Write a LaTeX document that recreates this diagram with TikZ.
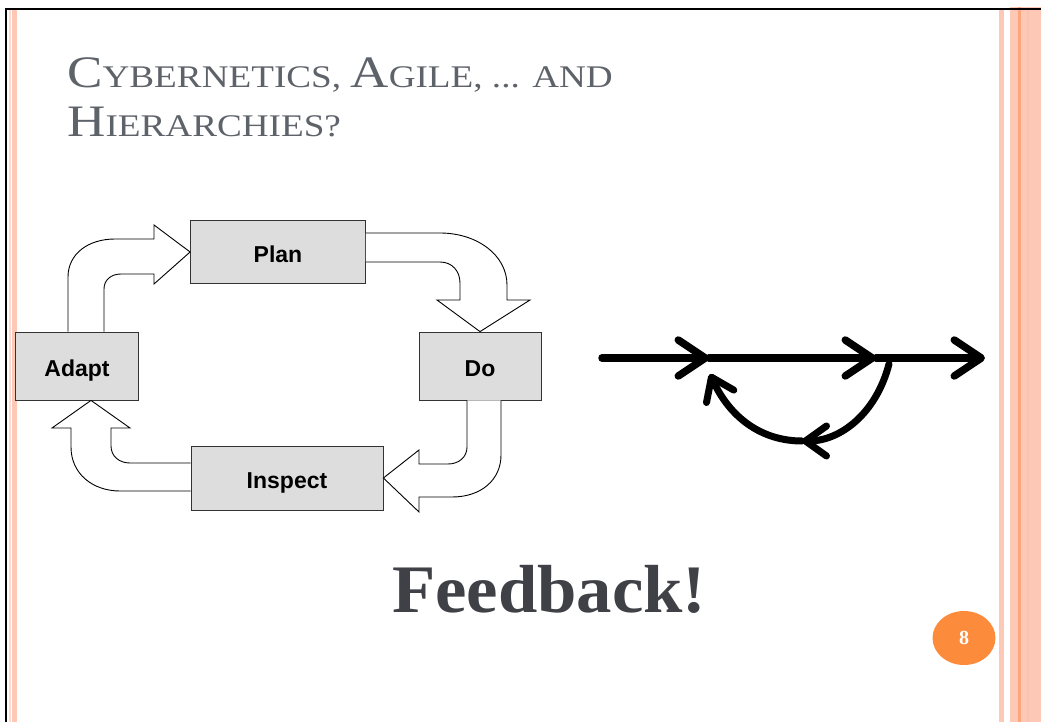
\documentclass[tikz,border=0pt]{standalone}
\usepackage{fontspec}
\setmainfont{Liberation Serif}
\newfontfamily\boxfont{Liberation Sans}
\usetikzlibrary{arrows.meta, positioning, calc, shapes.geometric}
\definecolor{titlegray}{HTML}{5E6269}
\definecolor{bigtext}{HTML}{404146}
\definecolor{boxgray}{HTML}{DDDDDD}
\definecolor{bandpink}{HTML}{FDC9B6}
\definecolor{palepink}{HTML}{FDDCD0}
\definecolor{bandorange}{HTML}{FBA77D}
\definecolor{pageorange}{HTML}{FD8B3C}
% 伪小型大写:首字母大号,其余小号
\newcommand{\capword}[2]{{\fontsize{45}{50}\selectfont #1}{\fontsize{31.5}{50}\selectfont #2}}

\begin{document}
\begin{tikzpicture}[x=1pt, y=-1pt, % 以像素为单位,y轴向下
  box/.style={draw=black!80, line width=0.8pt, fill=boxgray, inner sep=0pt,
              text height=20pt, text depth=0pt,
              font=\boxfont\bfseries\fontsize{23}{23}\selectfont},
  blockarrow/.style={draw=black, line width=0.9pt, fill=white, line join=miter},
  flow/.style={line width=7.5pt, line cap=round, -{Straight Barb[round, length=27pt, width=36pt]}},
  loopflow/.style={line width=7pt, line cap=round, -{Straight Barb[round, length=21pt, width=30pt]}}]
\useasboundingbox (0,0) rectangle (1041,722); % 固定画布尺寸

% 边框与右侧彩条
\fill[bandpink] (1010,7) rectangle (1041,722);
\fill[bandorange] (1018,7) rectangle (1020.5,722);
\fill[bandpink!80!bandorange] (1027,7) rectangle (1029,722);
\fill[bandpink] (999,10) rectangle (1004,722);
\fill[palepink] (9,10) rectangle (10.5,722);
\fill[bandpink] (12,10) rectangle (17,722);
\draw[line width=2.5pt] (6,722) -- (6,9) -- (1041,9);

% 标题
\node[anchor=base west, inner sep=0pt, text=titlegray, font=\fontsize{31.5}{50}\selectfont] (title1) at (67,88)
  {\scalebox{1.18}[1]{\capword{C}{YBERNETICS,} \capword{A}{GILE,} ... AND}};
\node[anchor=base west, inner sep=0pt, text=titlegray, font=\fontsize{31.5}{50}\selectfont] (title2) at (67,137)
  {\scalebox{1.18}[1]{\capword{H}{IERARCHIES?}}};

% 四个步骤框
\node[box, minimum width=175pt, minimum height=63pt] (plan) at (278,252) {Plan};
\node[box, minimum width=122pt, minimum height=68pt] (do) at (480,366) {Do};
\node[box, minimum width=123pt, minimum height=68pt] (adapt) at (77,366) {Adapt};
\node[box, minimum width=192pt, minimum height=64pt] (inspect) at (287,478) {Inspect};

% 空心弯箭头
\draw[blockarrow] (plan.east |- 0,233) -- (440,233) .. controls (477,233) and (507,255) .. (507,285)
  -- (507,300) -- (530,300) -- (do.north) -- (437,300) -- (460,300) -- (460,283)
  .. controls (460,271) and (452,262) .. (440,262) -- (plan.east |- 0,262);
\draw[blockarrow] (do.south -| 467,0) -- (467,447) .. controls (467,457) and (459,464) .. (448,464)
  -- (419,464) -- (419,450) -- (inspect.east) -- (419,512) -- (419,497) -- (452,497)
  .. controls (481,497) and (501,480) .. (501,455) -- (do.south -| 501,0);
\draw[blockarrow] (inspect.west |- 0,463) -- (130,463) .. controls (119,463) and (111,456) .. (111,446)
  -- (111,428) -- (130,428) -- (adapt.south -| 91,0) -- (52,428) -- (71,428) -- (71,447)
  .. controls (71,474) and (93,491) .. (120,491) -- (inspect.west |- 0,491);
\draw[blockarrow] (adapt.north -| 68,0) -- (68,277) .. controls (68,254) and (88,239) .. (115,239)
  -- (154,239) -- (154,225) -- (plan.west) -- (154,284) -- (154,274) -- (121,274)
  .. controls (111,274) and (104,280) .. (104,289) -- (adapt.north -| 104,0);

% 反馈回路
\coordinate (in) at (602,358);
\coordinate (p1) at (709,358);
\coordinate (p2) at (876,358);
\coordinate (out) at (985,358);
\coordinate (back) at (889,364);
\coordinate (low) at (802,441);
\coordinate (ret) at (710,374);
\draw[flow] (in) -- (p1);
\draw[flow] (p1) -- (p2);
\draw[flow] (p2) -- (out);
\draw[loopflow] (back) .. controls (876,414) and (840,441) .. (low);
\draw[loopflow] (low) .. controls (762,441) and (730,418) .. (ret);

% 大字与页码
\node[anchor=base west, inner sep=0pt, text=bigtext, font=\bfseries\fontsize{68}{68}\selectfont] (feedback) at (392,612) {\scalebox{1.04}[1]{Feedback!}};
\node[ellipse, fill=pageorange, minimum width=63pt, minimum height=54pt, inner sep=0pt,
      text=white, font=\bfseries\fontsize{20}{20}\selectfont] (pagenum) at (964,638) {8};
\end{tikzpicture}
\end{document}
